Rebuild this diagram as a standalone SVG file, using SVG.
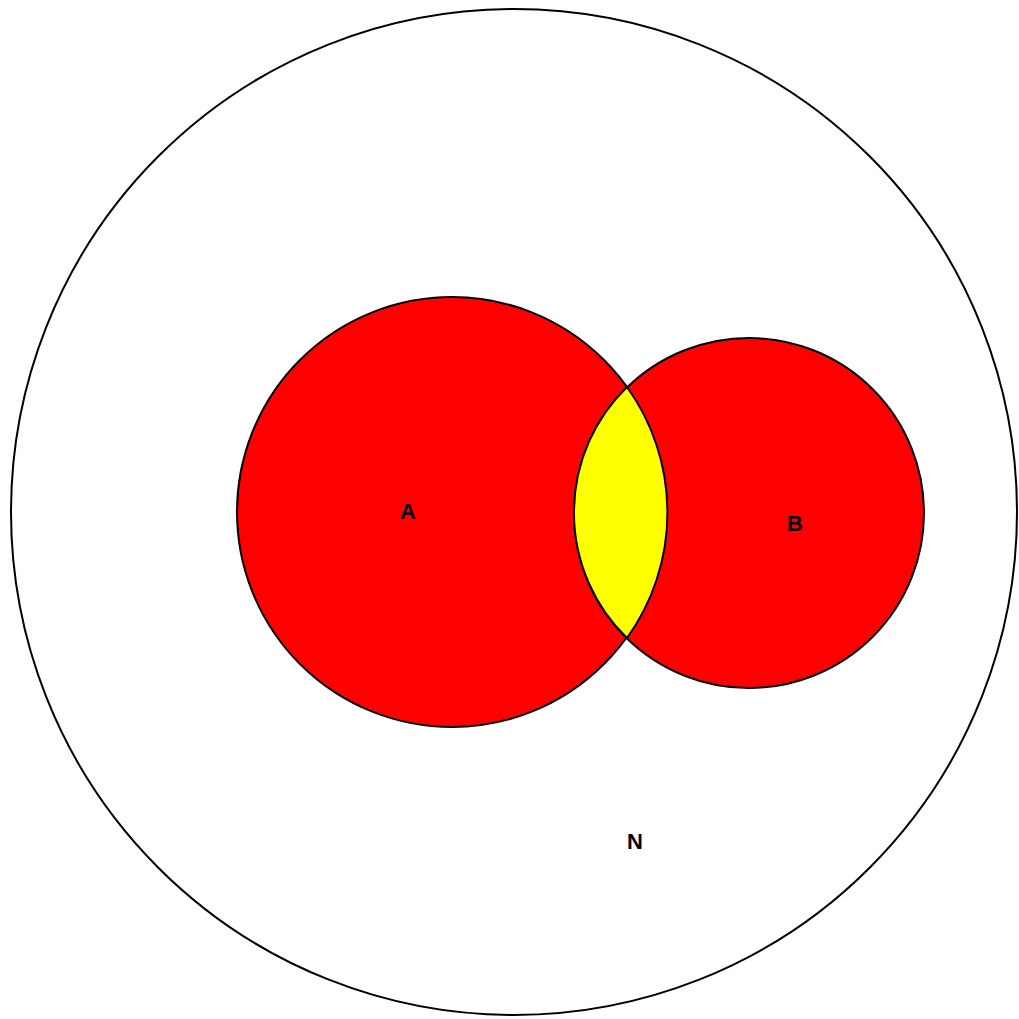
<svg xmlns="http://www.w3.org/2000/svg" width="1019" height="1019" viewBox="0 0 1019 1019">
<style>
.set{fill:#ff0000;stroke:#000;stroke-width:2}
.lens{fill:#ffff00;stroke:#000;stroke-width:2}
.lbl{font-family:"Liberation Sans",Arial,sans-serif;font-weight:bold;font-size:22px;fill:#000;text-anchor:middle}
</style>
<rect width="1019" height="1019" fill="#fff"/>
<g id="N">
<circle cx="514" cy="512" r="503" fill="#fff" stroke="#000" stroke-width="2"/>
<text class="lbl" x="635" y="849">N</text>
</g>
<g id="A">
<circle class="set" cx="452" cy="512" r="215"/>
</g>
<g id="B">
<circle class="set" cx="749" cy="513" r="175"/>
</g>
<g id="AB">
<path class="lens" d="M 627 387 A 215 215 0 0 1 627 638 A 175 175 0 0 1 627 387 Z"/>
</g>
<g id="labels">
<text class="lbl" x="408" y="519">A</text>
<text class="lbl" x="795" y="531">B</text>
</g>
<g id="connectors"/>
</svg>
